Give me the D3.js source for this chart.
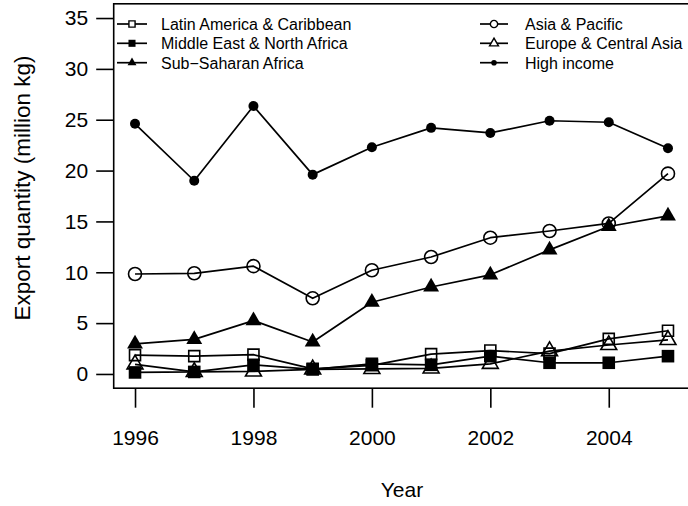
<!DOCTYPE html>
<html>
<head>
<meta charset="utf-8">
<script src="https://cdn.jsdelivr.net/npm/d3@7"></script>
<style>
  html, body { margin: 0; padding: 0; background: #fff; }
  svg { display: block; }
  text { font-family: "Liberation Sans", Arial, Helvetica, sans-serif; fill: #000; }
</style>
</head>
<body>
<svg id="chart" width="688" height="506"></svg>
<script>
// Export quantity by region, 1996-2005 (million kg)
const years = [1996, 1997, 1998, 1999, 2000, 2001, 2002, 2003, 2004, 2005];
const latinAmerica = [1.85, 1.75, 1.9, 0.5, 0.85, 1.95, 2.3, 2.0, 3.45, 4.25];
const middleEast   = [0.15, 0.2, 0.9, 0.45, 1.0, 0.9, 1.75, 1.1, 1.1, 1.75];
const subSaharan   = [2.95, 3.4, 5.25, 3.15, 7.05, 8.55, 9.75, 12.2, 14.5, 15.55];
const asiaPacific  = [9.83, 9.9, 10.6, 7.44, 10.2, 11.5, 13.4, 14.06, 14.8, 19.7];
const europe       = [0.95, 0.2, 0.25, 0.45, 0.5, 0.55, 1.0, 2.25, 2.85, 3.35];
const highIncome   = [24.6, 19.0, 26.35, 19.6, 22.3, 24.2, 23.7, 24.9, 24.75, 22.2];

const seriesNames = ["Latin America & Caribbean", "Middle East & North Africa", "Sub\u2212Saharan Africa",
                     "Asia & Pacific", "Europe & Central Asia", "High income"];
const yTicks = [0, 5, 10, 15, 20, 25, 30, 35];
const xTicks = [1996, 1998, 2000, 2002, 2004];
const xTitle = "Year";
const yTitle = "Export quantity (million kg)";

const series = [
  { name: seriesNames[0], values: latinAmerica, shape: "square",   filled: false },
  { name: seriesNames[1], values: middleEast,   shape: "square",   filled: true  },
  { name: seriesNames[2], values: subSaharan,   shape: "triangle", filled: true  },
  { name: seriesNames[3], values: asiaPacific,  shape: "circle",   filled: false },
  { name: seriesNames[4], values: europe,       shape: "triangle", filled: false },
  { name: seriesNames[5], values: highIncome,   shape: "dot",      filled: true  }
];

const svg = d3.select("#chart");

// plot region (domain padded 4% on each side)
const xPad = (2005 - 1996) * 0.04, yPad = 35 * 0.04;
const x = d3.scaleLinear().domain([1996 - xPad, 2005 + xPad]).range([113.7, 689.3]);
const y = d3.scaleLinear().domain([0 - yPad, 35 + yPad]).range([388.2, 3.8]);

const LW = 1.7;
const AXIS_FONT = 21;

// marker path for a given shape, scaled by s
function markerPath(shape, s) {
  const p = d3.path();
  if (shape === "square") {
    const h = 5.5 * s;
    p.rect(-h, -h, 2 * h, 2 * h);
  } else if (shape === "squareSolid") {
    const h = 6.3 * s;
    p.rect(-h, -h, 2 * h, 2 * h);
  } else if (shape === "triangle") {
    const r0 = 5.9 * s;
    const r = 1.5551 * r0, xc = 1.3468 * r0, yc = 0.7776 * r0;
    p.moveTo(0, -r);
    p.lineTo(xc, yc);
    p.lineTo(-xc, yc);
    p.closePath();
  } else if (shape === "circle") {
    p.arc(0, 0, 6.5 * s, 0, 2 * Math.PI);
  } else if (shape === "dot") {
    p.arc(0, 0, 5.0 * s, 0, 2 * Math.PI);
  }
  return p.toString();
}

function shapeKey(d) {
  return (d.shape === "square" && d.filled) ? "squareSolid" : d.shape;
}

// box around the plot region
svg.append("rect")
  .attr("x", x.range()[0]).attr("y", y.range()[1])
  .attr("width", x.range()[1] - x.range()[0])
  .attr("height", y.range()[0] - y.range()[1])
  .attr("fill", "none").attr("stroke", "#000").attr("stroke-width", 1.6);

// y axis
const yAxis = d3.axisLeft(y).tickValues(yTicks).tickSize(17.5).tickSizeOuter(0).tickPadding(8)
  .tickFormat(d3.format("d"));
const gy = svg.append("g").attr("transform", `translate(${x.range()[0]},0)`).call(yAxis);
gy.select(".domain").remove();
gy.selectAll(".tick line").attr("stroke", "#000").attr("stroke-width", 1.6);
gy.selectAll(".tick text").attr("font-size", AXIS_FONT).attr("fill", "#000")
  .attr("font-family", "Liberation Sans, Arial, sans-serif");

// x axis
const xAxis = d3.axisBottom(x).tickValues(xTicks).tickSize(19.5).tickSizeOuter(0).tickPadding(22)
  .tickFormat(d3.format("d"));
const gx = svg.append("g").attr("transform", `translate(0,${y.range()[0]})`).call(xAxis);
gx.select(".domain").remove();
gx.selectAll(".tick line").attr("stroke", "#000").attr("stroke-width", 1.6);
gx.selectAll(".tick text").attr("font-size", AXIS_FONT).attr("fill", "#000")
  .attr("font-family", "Liberation Sans, Arial, sans-serif");

// axis titles
svg.append("text")
  .attr("x", 402).attr("y", 497)
  .attr("text-anchor", "middle").attr("font-size", AXIS_FONT)
  .text(xTitle);
svg.append("text")
  .attr("transform", `translate(30,188) rotate(-90)`)
  .attr("text-anchor", "middle").attr("font-size", 22.5)
  .text(yTitle);

// series lines and markers
const line = d3.line().x((d, i) => x(years[i])).y(d => y(d));
series.forEach(s => {
  svg.append("path")
    .attr("d", line(s.values))
    .attr("fill", "none").attr("stroke", "#000").attr("stroke-width", LW)
    .attr("stroke-linejoin", "round");
});
series.forEach(s => {
  svg.append("g").selectAll("path")
    .data(s.values)
    .join("path")
    .attr("transform", (d, i) => `translate(${x(years[i])},${y(d)})`)
    .attr("d", markerPath(shapeKey(s), 1))
    .attr("fill", s.filled ? "#000" : "none")
    .attr("stroke", s.filled ? "none" : "#000")
    .attr("stroke-width", 1.6);
});

// legend in two columns
const legendCols = [{ x0: 117, x1: 147, tx: 161 }, { x0: 480, x1: 508, tx: 525 }];
const legendRows = [24, 43.3, 62.7];
series.forEach((s, i) => {
  const c = legendCols[Math.floor(i / 3)];
  const ry = legendRows[i % 3];
  const g = svg.append("g");
  g.append("line").attr("x1", c.x0).attr("x2", c.x1).attr("y1", ry).attr("y2", ry)
    .attr("stroke", "#000").attr("stroke-width", LW);
  g.append("path")
    .attr("transform", `translate(${(c.x0 + c.x1) / 2},${ry})`)
    .attr("d", markerPath(shapeKey(s), 0.56))
    .attr("fill", s.filled ? "#000" : "#fff")
    .attr("stroke", s.filled ? "none" : "#000")
    .attr("stroke-width", 1.4);
  g.append("text").attr("x", c.tx).attr("y", ry + 5.8).attr("font-size", 16).text(s.name);
});
</script>
</body>
</html>
